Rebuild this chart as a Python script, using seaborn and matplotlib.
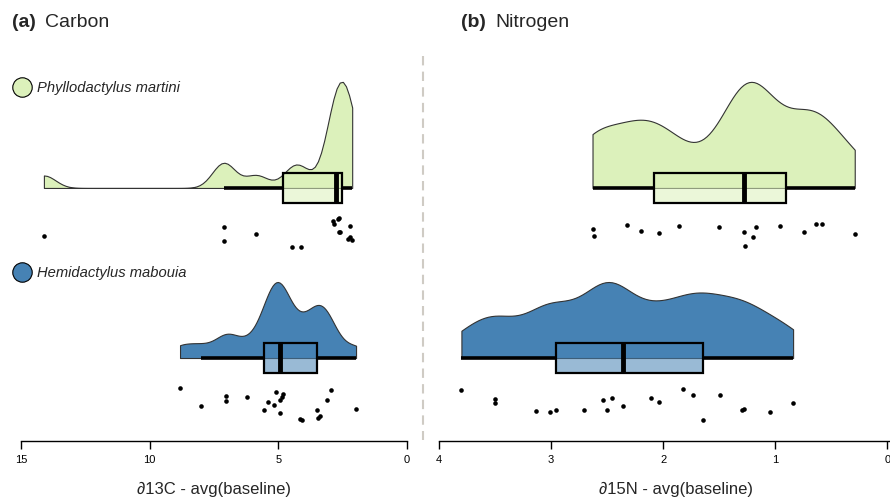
import numpy as np
import pandas as pd
import matplotlib
matplotlib.use("Agg")
import matplotlib.pyplot as plt
from matplotlib.lines import Line2D
from matplotlib.colors import to_rgba
import seaborn as sns

# species and colours
species = ["Phyllodactylus martini", "Hemidactylus mabouia"]
colors = ["#dcf1bb", "#4682b4"]

# values (offset from baseline average)
carbon_martini = [14.11, 7.12, 7.12, 5.85, 4.46, 4.12, 2.87, 2.83, 2.70, 2.62,
                  2.66, 2.66, 2.31, 2.22, 2.13, 2.22]
carbon_mabouia = [8.82, 8.02, 7.02, 7.02, 6.20, 5.55, 5.42, 5.10, 5.18, 4.92, 4.86,
                  4.81, 4.95, 4.14, 4.09, 3.51, 3.45, 3.38, 3.12, 2.96, 1.98]
nitrogen_martini = [2.62, 2.63, 2.32, 2.20, 2.04, 1.86, 1.50, 1.28, 1.27, 1.20,
                    1.17, 0.96, 0.74, 0.64, 0.58, 0.29]
nitrogen_mabouia = [3.80, 3.50, 3.50, 3.13, 3.01, 2.96, 2.71, 2.54, 2.50, 2.46, 2.36,
                    2.11, 2.04, 1.82, 1.73, 1.64, 1.49, 1.30, 1.28, 1.05, 0.84]

carbon_ticks = [15, 10, 5, 0]
nitrogen_ticks = [4, 3, 2, 1, 0]

sns.set_style("white")
plt.rcParams["font.family"] = ["Liberation Sans", "DejaVu Sans"]

np.random.seed(3)
fig = plt.figure(figsize=(8.9, 5), dpi=100)
ax_a = fig.add_axes([21 / 890, 0.118, 386 / 890, 0.802])
ax_b = fig.add_axes([439 / 890, 0.118, 474 / 890, 0.802])


def raincloud(ax, groups, bws, xlim, ticks, xlabel):
    # cloud height per species (in row units)
    heights = [0.624, 0.447]
    for i, (vals, col, bw, hgt) in enumerate(zip(groups, colors, bws, heights)):
        d = pd.DataFrame({"value": vals, "row": float(i)})
        # half violin: seaborn puts the flat side at row + width/2
        dv = d.assign(row=i - hgt / 2)
        sns.violinplot(data=dv, x="value", y="row", orient="h", native_scale=True,
                       split=True, inner=None, cut=0, bw_adjust=bw,
                       density_norm="width", width=hgt, color=col, saturation=1,
                       linecolor="#333333", linewidth=0.8, ax=ax)
        n0 = len(ax.patches)
        sns.boxplot(data=d, x="value", y="row", orient="h", native_scale=True,
                    width=0.18, showfliers=False, showcaps=False, color=col,
                    saturation=1, linecolor="black", linewidth=1.6,
                    medianprops=dict(linewidth=3.5), whiskerprops=dict(linewidth=2.6),
                    ax=ax)
        for p in ax.patches[n0:]:
            p.set_facecolor(to_rgba(col, 0.55))
        ds = d.assign(row=i + 0.27)
        sns.stripplot(data=ds, x="value", y="row", orient="h", native_scale=True,
                      jitter=0.1, color="black", size=3.3, linewidth=0, ax=ax)
    ax.set_xlim(*xlim)
    ax.set_ylim(1.488, -0.87)
    ax.set_xticks(ticks)
    ax.set_xticklabels([str(t) for t in ticks])
    ax.set_yticks([])
    ax.set_ylabel("")
    ax.set_xlabel(xlabel, fontsize=12, labelpad=12)
    for s in ["top", "right", "left"]:
        ax.spines[s].set_visible(False)
    ax.spines["bottom"].set_linewidth(1.0)
    ax.spines["bottom"].set_color("black")
    ax.tick_params(axis="x", direction="out", length=6, width=1, labelsize=8,
                   pad=4, bottom=True, colors="black")
    ax.patch.set_alpha(0)


raincloud(ax_a, [carbon_martini, carbon_mabouia], [0.25, 0.5], (15, 0),
          carbon_ticks, "\u220213C - avg(baseline)")
raincloud(ax_b, [nitrogen_martini, nitrogen_mabouia], [0.5, 0.45], (4, -0.23),
          nitrogen_ticks, "\u220215N - avg(baseline)")

# panel titles
fig.text(12 / 890, 1 - 27 / 500, "(a)", fontsize=14, fontweight="bold", va="baseline")
fig.text(45 / 890, 1 - 27 / 500, "Carbon", fontsize=14, va="baseline")
fig.text(461 / 890, 1 - 27 / 500, "(b)", fontsize=14, fontweight="bold", va="baseline")
fig.text(495 / 890, 1 - 27 / 500, "Nitrogen", fontsize=14, va="baseline")

# species legends
for sp, col, ypx in zip(species, colors, [88, 273]):
    h = Line2D([], [], marker="o", ls="", markersize=14, markerfacecolor=col,
               markeredgecolor="black", markeredgewidth=0.8)
    fig.legend([h], [sp], loc="center left", bbox_to_anchor=(15 / 890, 1 - ypx / 500),
               frameon=False, borderpad=0, borderaxespad=0, handlelength=1.0,
               handletextpad=0.5, prop=dict(style="italic", size=10.6))

# divider between panels
fig.add_artist(Line2D([423 / 890, 423 / 890], [1 - 56 / 500, 1 - 440 / 500],
                      color="#cfcbc4", lw=1.5, dashes=(4.5, 3)))

fig.savefig("out.png", dpi=100)
